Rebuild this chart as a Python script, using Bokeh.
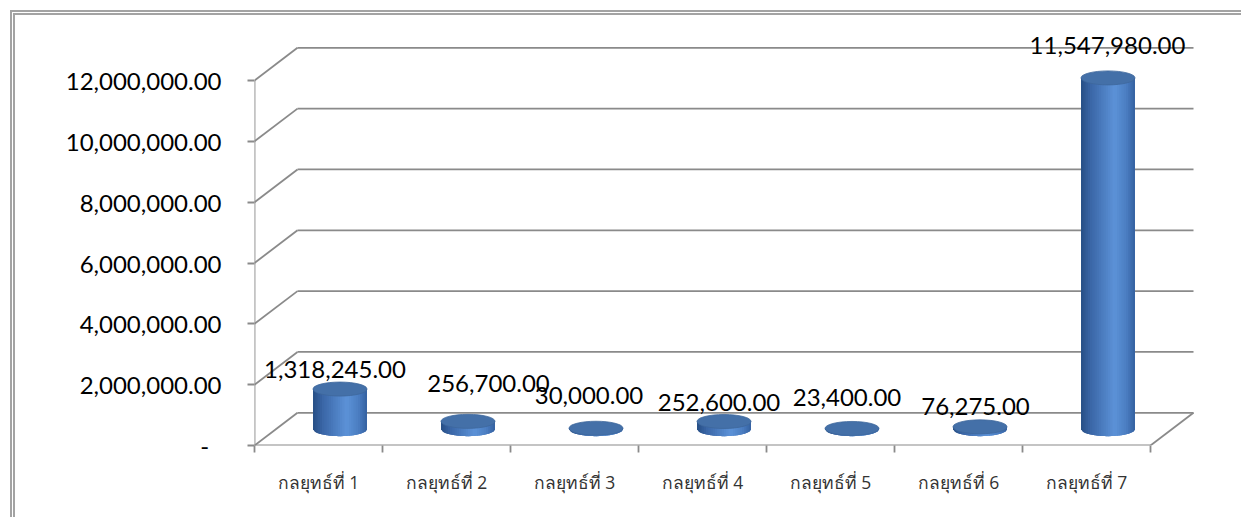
import numpy as np
from bokeh.plotting import figure
from bokeh.models import Range1d, FixedTicker, NumeralTickFormatter, ColumnDataSource
from bokeh.core.properties import value
from bokeh.embed import file_html
from bokeh.resources import INLINE

# ---------------- data ----------------
categories = ["กลยุทธ์ที่ 1", "กลยุทธ์ที่ 2", "กลยุทธ์ที่ 3", "กลยุทธ์ที่ 4",
              "กลยุทธ์ที่ 5", "กลยุทธ์ที่ 6", "กลยุทธ์ที่ 7"]
budgets = [1318245.00, 256700.00, 30000.00, 252600.00, 23400.00, 76275.00, 11547980.00]
y_ticks = [0, 2000000, 4000000, 6000000, 8000000, 10000000, 12000000]

# ---------------- layout / style ----------------
W, H = 1241, 517
BORDER_L, BORDER_R, BORDER_T, BORDER_B = 254, 33, 8, 72
CAT_PX = 128.0
PX_PER_VAL = 365.0 / 12000000.0          # vertical pixels per unit value
DEPTH_DX_PX, DEPTH_DY_PX = 43.0, 32.7      # 3-D depth offset in pixels
CYL_HALF_W_PX, CYL_RY_PX = 27.0, 7.0
# per-label pixel nudges (Excel's own label placement)
label_dx = [-5, 20.5, -7, -5, -5, -4.5, -0.5]
label_dy = [-19.5, -37.8, -32.7, -19.4, -30.9, -20.8, -32.3]

GRID = "#8a8a8a"
FONT = "Lato"

frame_w = W - BORDER_L - BORDER_R
frame_h = H - BORDER_T - BORDER_B
n = len(categories)
x_end = frame_w / CAT_PX
y_end = frame_h / PX_PER_VAL

dx = DEPTH_DX_PX / CAT_PX
dyv = DEPTH_DY_PX / PX_PER_VAL
r = CYL_HALF_W_PX / CAT_PX
ry = CYL_RY_PX / PX_PER_VAL

p = figure(width=W, height=H, title=None, toolbar_location=None, output_backend="svg",
           x_range=Range1d(0, x_end), y_range=Range1d(0, y_end),
           min_border_left=BORDER_L, min_border_right=BORDER_R,
           min_border_top=BORDER_T, min_border_bottom=BORDER_B)
p.outline_line_color = None
p.background_fill_color = None
p.border_fill_color = None
p.xgrid.visible = False
p.ygrid.visible = False
p.styles = {"box-shadow": "inset 10px 10px 0 0 #ffffff, inset 12px 12px 0 0 #a3a3a3, "
                          "inset 13px 13px 0 0 #ffffff, inset 15px 15px 0 0 #a3a3a3"}

# ---------------- 3-D frame (walls & floor) ----------------
top_tick = max(y_ticks)
sx0, sy0, sx1, sy1 = [], [], [], []
for v in y_ticks:
    # back wall gridline
    sx0.append(dx); sy0.append(v + dyv); sx1.append(n + dx); sy1.append(v + dyv)
    # side wall diagonal
    sx0.append(0); sy0.append(v); sx1.append(dx); sy1.append(v + dyv)
# front vertical axis, front baseline, right floor edge
sx0 += [0, 0, n]; sy0 += [0, 0, 0]
sx1 += [0, n, n + dx]; sy1 += [top_tick, 0, dyv]
p.segment(sx0, sy0, sx1, sy1, line_color=GRID, line_width=1.8)

# ---------------- cylinders ----------------
def shade(t):
    keys = [(0.0, (38, 78, 132)), (0.18, (58, 102, 166)), (0.62, (92, 146, 216)),
            (0.85, (74, 124, 192)), (1.0, (52, 96, 160))]
    for (t0, c0), (t1, c1) in zip(keys[:-1], keys[1:]):
        if t <= t1:
            f = (t - t0) / (t1 - t0)
            c = [int(round(a + (b - a) * f)) for a, b in zip(c0, c1)]
            return "#%02x%02x%02x" % tuple(c)
    return "#%02x%02x%02x" % keys[-1][1]

def bottom_edge(x, cx, base):
    return base - ry * np.sqrt(max(0.0, 1 - ((x - cx) / r) ** 2))

NSTRIP = 24
base = dyv / 2.0
xs, ys, cols = [], [], []
tops, cxs = [], []
for i, v in enumerate(budgets):
    cx = i + 0.5 + dx / 2.0
    top = base + v
    cxs.append(cx)
    tops.append(top)
    w = 2 * r / NSTRIP
    for k in range(NSTRIP):
        x0 = cx - r + w * k
        x1 = min(x0 + 2.2 * w, cx + r)
        xm = np.linspace(x0, x1, 4)
        px = list(xm) + [x1, x0]
        py = [bottom_edge(x, cx, base) for x in xm] + [top, top]
        xs.append(px)
        ys.append(py)
        cols.append(shade((k + 0.5) / NSTRIP))
p.patches(xs, ys, fill_color=cols, line_color=None)
p.ellipse(x=cxs, y=tops, width=2 * r, height=2 * ry,
          fill_color="#4470a8", line_color="#3d679c", line_width=0.8)

# ---------------- data labels ----------------
src = ColumnDataSource(dict(x=cxs, y=tops, text=["{:,.2f}".format(v) for v in budgets],
                            xo=label_dx, yo=label_dy))
p.text(x="x", y="y", text="text", x_offset="xo", y_offset="yo", source=src,
       text_align="center", text_baseline="middle", text_color="#000000",
       text_font=value(FONT), text_font_size="24px")

# ---------------- axes ----------------
xa = p.xaxis[0]
xa.ticker = FixedTicker(ticks=[i + 0.5 for i in range(n)], minor_ticks=list(range(n + 1)))
xa.major_label_overrides = {i + 0.5: c for i, c in enumerate(categories)}
xa.axis_line_color = None
xa.major_tick_line_color = None
xa.major_tick_out = 7
xa.major_tick_in = 0
xa.minor_tick_line_color = GRID
xa.minor_tick_line_width = 1.8
xa.minor_tick_out = 7
xa.minor_tick_in = 0
xa.major_label_standoff = 17
xa.major_label_text_font = "Open Sans"
xa.major_label_text_font_size = "17.5px"
xa.major_label_text_color = "#333333"

ya = p.yaxis[0]
ya.ticker = FixedTicker(ticks=y_ticks, minor_ticks=[])
ya.formatter = NumeralTickFormatter(format="0,0.00")
ya.major_label_overrides = {0: "-\u00a0\u00a0"}
ya.axis_line_color = None
ya.major_tick_line_color = GRID
ya.major_tick_line_width = 1.8
ya.major_tick_out = 7
ya.major_tick_in = 0
ya.minor_tick_line_color = None
ya.major_label_standoff = 26
ya.major_label_text_font = FONT
ya.major_label_text_font_size = "24px"
ya.major_label_text_color = "#000000"

open("out.html", "w").write(file_html(p, INLINE))
